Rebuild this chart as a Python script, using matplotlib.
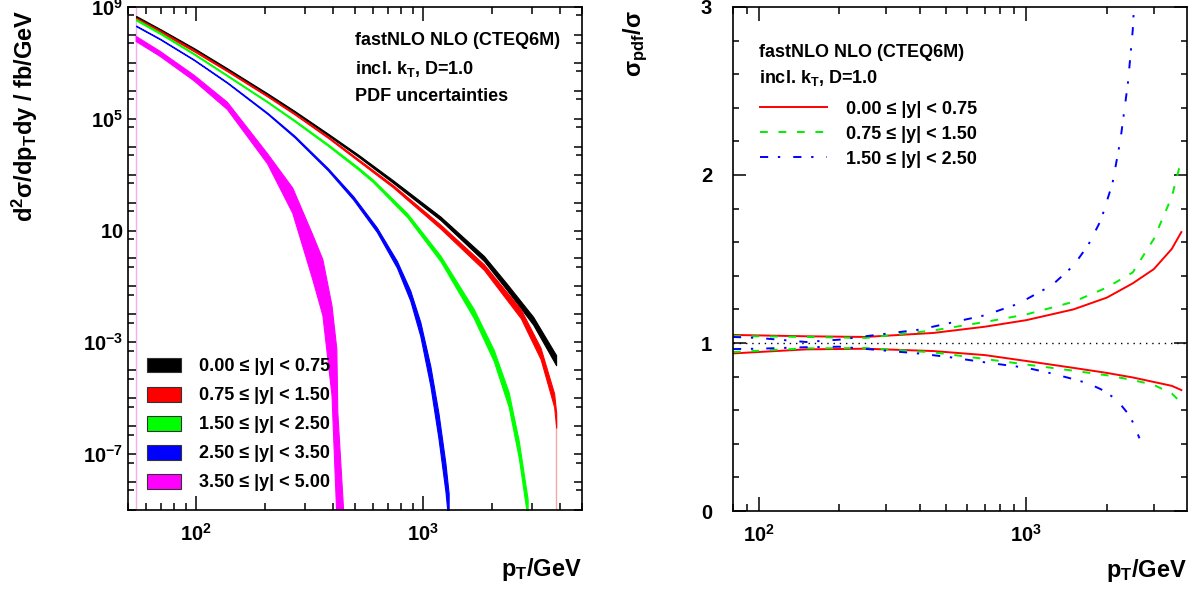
import numpy as np
import matplotlib
matplotlib.use("Agg")
import matplotlib.pyplot as plt
from matplotlib.patches import Patch
from matplotlib.ticker import FixedLocator, FuncFormatter, NullFormatter, LogLocator, MultipleLocator

plt.rcParams['font.family'] = ['Liberation Sans', 'DejaVu Sans']
plt.rcParams['font.weight'] = 'bold'
plt.rcParams['axes.labelweight'] = 'bold'
plt.rcParams['axes.unicode_minus'] = False
plt.rcParams['mathtext.fontset'] = 'custom'
plt.rcParams['mathtext.rm'] = 'Liberation Sans:bold'
plt.rcParams['mathtext.bf'] = 'Liberation Sans:bold'
plt.rcParams['mathtext.it'] = 'Liberation Sans:bold'
plt.rcParams['mathtext.default'] = 'bf'

bins = ['0.00 ≤ |y| < 0.75', '0.75 ≤ |y| < 1.50', '1.50 ≤ |y| < 2.50',
        '2.50 ≤ |y| < 3.50', '3.50 ≤ |y| < 5.00']
colors = ['#000000', '#ff0000', '#00ff00', '#0000ff', '#ff00ff']

# left panel: cross sections (fb/GeV) and band half-width in decades
pt_0 = [54.3, 69.3, 98, 137, 206, 271, 380, 515, 737, 1190, 1850, 2343, 3049, 3846]
xs_0 = [4.4e8, 1.5e8, 3.1e7, 6.0e6, 7.6e5, 1.8e5, 2.75e4, 4.9e3, 5.6e2, 27.5, 1.0, 9.3e-2, 5.9e-3, 2.3e-4]
sp_0 = [0.035, 0.035, 0.03, 0.025, 0.025, 0.025, 0.03, 0.035, 0.045, 0.06, 0.09, 0.11, 0.14, 0.18]

pt_1 = [54.3, 69.3, 98, 137, 206, 271, 380, 737, 1190, 1850, 2688, 3285, 3770, 3850]
xs_1 = [3.9e8, 1.35e8, 2.7e7, 5.2e6, 6.5e5, 1.5e5, 2.2e4, 3.8e2, 13.8, 0.49, 1.05e-2, 4.0e-4, 8.5e-6, 1.6e-6]
sp_1 = [0.03, 0.03, 0.025, 0.02, 0.02, 0.02, 0.025, 0.04, 0.07, 0.1, 0.16, 0.2, 0.24, 0.26]

pt_2 = [54.3, 69.3, 97.6, 137, 206, 271, 380, 515, 600, 850, 1190, 1665, 2043, 2376, 2633, 2882]
xs_2 = [3.5e8, 1.15e8, 2.1e7, 3.5e6, 4.0e5, 8.5e4, 1.15e4, 1.7e3, 6.0e2, 35, 1.0, 1.1e-2, 3.4e-4, 9.1e-6, 1.5e-7, 1.07e-9]
sp_2 = [0.025, 0.025, 0.02, 0.02, 0.02, 0.025, 0.03, 0.04, 0.045, 0.07, 0.1, 0.16, 0.2, 0.26, 0.3, 0.35]

pt_3 = [54.3, 69.3, 97.6, 137, 206, 271, 380, 491, 624, 765, 876, 970, 1074, 1166, 1252, 1293]
xs_3 = [2.1e8, 7.1e7, 1.29e7, 1.95e6, 1.55e5, 2.3e4, 1.55e3, 148, 10.7, 0.62, 4.7e-2, 3.0e-3, 6.3e-5, 1.05e-6, 1.45e-8, 1.1e-9]
sp_3 = [0.012, 0.012, 0.012, 0.015, 0.02, 0.03, 0.04, 0.06, 0.08, 0.12, 0.18, 0.25, 0.35, 0.45, 0.5, 0.55]

pt_4 = [54.3, 69.3, 97.6, 137, 206, 266, 326, 361, 396, 416, 420, 447]
xs_4 = [7.2e7, 2.1e7, 2.9e6, 2.9e5, 3.7e3, 1.17e2, 1.1, 9.1e-2, 5.1e-4, 5.6e-7, 1.0e-9, 2.0e-13]
sp_4 = [0.09, 0.09, 0.1, 0.13, 0.18, 0.45, 0.8, 1.0, 1.6, 3.0, 3.5, 3.5]

left_series = [(pt_0, xs_0, sp_0), (pt_1, xs_1, sp_1), (pt_2, xs_2, sp_2),
               (pt_3, xs_3, sp_3), (pt_4, xs_4, sp_4)]

# right panel: relative PDF uncertainty (upper / lower)
rpt = [80, 150, 250, 450, 700, 1000, 1500, 2000, 2500, 3000, 3500, 3800]
r0_up = [1.048, 1.04, 1.036, 1.06, 1.097, 1.136, 1.20, 1.27, 1.355, 1.44, 1.56, 1.66]
r0_dn = [0.938, 0.962, 0.966, 0.952, 0.928, 0.893, 0.852, 0.822, 0.795, 0.768, 0.745, 0.72]
r1_up = [1.042, 1.036, 1.03, 1.075, 1.125, 1.17, 1.245, 1.33, 1.42, 1.62, 1.87, 2.09]
r1_dn = [0.946, 0.968, 0.97, 0.944, 0.905, 0.872, 0.835, 0.808, 0.78, 0.75, 0.70, 0.643]

bpt = [80, 100, 150, 200, 250, 400, 520, 700, 900, 1000, 1250, 1500, 1700, 1900, 2100, 2250, 2400, 2500, 2650]
r2_up = [1.036, 1.03, 1.006, 1.02, 1.04, 1.08, 1.12, 1.165, 1.225, 1.26, 1.345, 1.46, 1.58, 1.73, 1.95, 2.21, 2.55, 2.86, 3.6]
r2_dn = [0.964, 0.966, 0.975, 0.978, 0.965, 0.937, 0.915, 0.885, 0.862, 0.853, 0.818, 0.785, 0.76, 0.725, 0.68, 0.635, 0.58, 0.53, 0.433]

fig = plt.figure(figsize=(11.95, 5.92), dpi=100)
axl = fig.add_axes([0.1071, 0.1385, 0.3799, 0.8497])
axr = fig.add_axes([0.6134, 0.1368, 0.3799, 0.8514])

# ---- left panel
axl.axvline(pt_4[0], color='#f0b0f0', lw=1.0, zorder=0.5)
axl.vlines(pt_1[-1], 1e-9, xs_1[-1], color='#f4a8a8', lw=1.0, zorder=0.5)
for (pt, xs, sp), c in zip(left_series, colors):
    pt = np.array(pt)
    xs = np.array(xs)
    f = 10 ** np.array(sp)
    axl.fill_between(pt, xs / f, xs * f, color=c, lw=0.8)

axl.set_xscale('log')
axl.set_yscale('log')
axl.set_xlim(50, 5000)
axl.set_ylim(1e-9, 1e9)

axl.xaxis.set_major_locator(FixedLocator([100, 1000]))
axl.xaxis.set_major_formatter(FuncFormatter(lambda v, p: r'$10^{%d}$' % round(np.log10(v))))
axl.xaxis.set_minor_locator(LogLocator(base=10, subs=np.arange(2, 10), numticks=20))
axl.xaxis.set_minor_formatter(NullFormatter())

axl.yaxis.set_major_locator(FixedLocator(10.0 ** np.arange(-9, 10)))
axl.yaxis.set_minor_locator(FixedLocator(5 * 10.0 ** np.arange(-10, 9)))
axl.yaxis.set_minor_formatter(NullFormatter())


def ylab(v, p):
    e = int(round(np.log10(v)))
    if e == 1:
        return r'$10\;\;\;$'
    if e in (9, 5, -3, -7):
        return r'$10^{%d}$' % e
    return ''


axl.yaxis.set_major_formatter(FuncFormatter(ylab))
axl.tick_params(axis='x', which='major', length=10, pad=9)
axl.tick_params(axis='x', which='minor', length=5)
axl.tick_params(axis='y', which='major', length=6, pad=3.5)
axl.tick_params(axis='y', which='minor', length=4.5)

axl.text(0.50, 0.924, 'fastNLO NLO (CTEQ6M)', transform=axl.transAxes, fontsize=13, va='baseline')
axl.text(0.50, 0.867, 'incl. k$_{T}$, D=1.0', transform=axl.transAxes, fontsize=13, va='baseline')
axl.text(0.50, 0.813, 'PDF uncertainties', transform=axl.transAxes, fontsize=13, va='baseline')

handles = [Patch(facecolor=c, edgecolor='#333333', lw=0.8) for c in colors]
axl.legend(handles, bins, loc='upper left', bbox_to_anchor=(0.042, 0.303), frameon=False,
           fontsize=13, handlelength=1.89, handleheight=0.89, handletextpad=1.0,
           labelspacing=0.63, borderpad=0, borderaxespad=0)

axl.set_xlabel('p$_{T}$/GeV', fontsize=17, loc='right')
axl.xaxis.set_label_coords(1.0, -0.091)
axl.set_ylabel('d$^{2}$σ/dp$_{T}$dy / fb/GeV', fontsize=17, loc='top')
axl.yaxis.set_label_coords(-0.194, 0.994)

# ---- right panel
axr.axhline(1.0, color='black', lw=1.0, dashes=(1, 3.5))
styles = [dict(color='#ff0000', lw=1.4, ls='-'),
          dict(color='#00ee00', lw=1.4, dashes=(4, 5.5)),
          dict(color='#0000ff', lw=1.4, dashes=(4.2, 5, 1.2, 6.7))]
right_series = [(rpt, r0_up, r0_dn), (rpt, r1_up, r1_dn), (bpt, r2_up, r2_dn)]
leg_lines = []
for (pt, up, dn), st in zip(right_series, styles):
    ln, = axr.plot(pt, up, **st)
    axr.plot(pt, dn, **st)
    leg_lines.append(ln)

axr.set_xscale('log')
axr.set_xlim(80, 3990)
axr.set_ylim(0, 3)
axr.xaxis.set_major_locator(FixedLocator([100, 1000]))
axr.xaxis.set_major_formatter(FuncFormatter(lambda v, p: r'$10^{%d}$' % round(np.log10(v))))
axr.xaxis.set_minor_locator(LogLocator(base=10, subs=np.arange(2, 10), numticks=20))
axr.xaxis.set_minor_formatter(NullFormatter())
axr.yaxis.set_major_locator(MultipleLocator(1))
axr.yaxis.set_minor_locator(MultipleLocator(0.2))
axr.tick_params(axis='x', which='major', length=10, pad=9)
axr.tick_params(axis='x', which='minor', length=5)
axr.tick_params(axis='y', which='major', length=9.5, pad=15)
axr.tick_params(axis='y', which='minor', length=4)

axr.text(0.057, 0.901, 'fastNLO NLO (CTEQ6M)', transform=axr.transAxes, fontsize=13, va='baseline')
axr.text(0.057, 0.849, 'incl. k$_{T}$, D=1.0', transform=axr.transAxes, fontsize=13, va='baseline')
axr.legend(leg_lines, bins[:3], loc='upper left', bbox_to_anchor=(0.0595, 0.814), frameon=False,
           fontsize=13, handlelength=3.7, handletextpad=1.05, labelspacing=0.44,
           borderpad=0, borderaxespad=0)

axr.set_xlabel('p$_{T}$/GeV', fontsize=17, loc='right')
axr.xaxis.set_label_coords(1.0, -0.091)
axr.set_ylabel('σ$_{pdf}$/σ', fontsize=17, loc='top')
axr.yaxis.set_label_coords(-0.183, 0.994)

for ax in (axl, axr):
    ax.tick_params(which='both', direction='in', top=True, right=True, width=1.1, labelsize=14.5)
    for s in ax.spines.values():
        s.set_linewidth(1.2)

fig.savefig('out.png', dpi=100)
